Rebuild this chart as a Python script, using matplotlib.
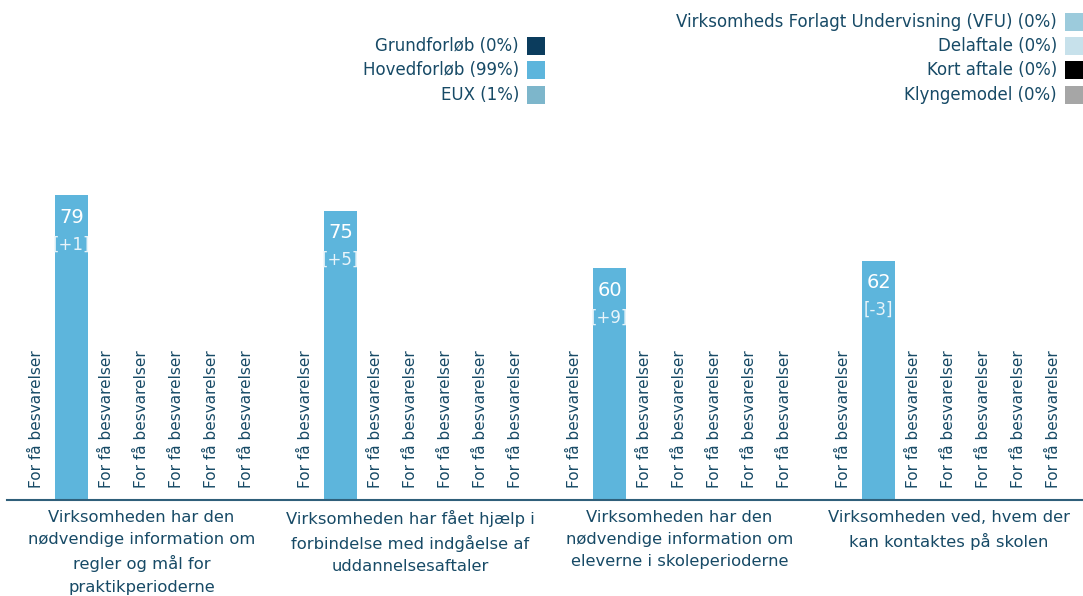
import matplotlib
matplotlib.use("Agg")
import matplotlib.pyplot as plt
from matplotlib.patches import Rectangle

categories = [
    "Virksomheden har den\nnødvendige information om\nregler og mål for\npraktikperioderne",
    "Virksomheden har fået hjælp i\nforbindelse med indgåelse af\nuddannelsesaftaler",
    "Virksomheden har den\nnødvendige information om\neleverne i skoleperioderne",
    "Virksomheden ved, hvem der\nkan kontaktes på skolen",
]
series = ["Grundforløb", "Hovedforløb", "EUX", "Virksomheds Forlagt Undervisning (VFU)",
          "Delaftale", "Kort aftale", "Klyngemodel"]
shares = [0, 99, 1, 0, 0, 0, 0]
colors = ["#0b3c5d", "#5db5dc", "#7db6cb", "#9ccbdc", "#c7e1eb", "#000000", "#a6a6a6"]
hoved_values = [79, 75, 60, 62]
hoved_diffs = ["[+1]", "[+5]", "[+9]", "[-3]"]
values = [[None] * 4, hoved_values, [None] * 4, [None] * 4, [None] * 4, [None] * 4, [None] * 4]
diffs = [[None] * 4, hoved_diffs, [None] * 4, [None] * 4, [None] * 4, [None] * 4, [None] * 4]
few_text = "For få besvarelser"

TXT = "#174a66"
plt.rcParams['font.family'] = ['DejaVu Sans']

W, H = 1083, 596
fig = plt.figure(figsize=(W / 100, H / 100), dpi=100)
x0, x1 = 7, 1083
ybase, ytop = 500, 114
ax = fig.add_axes([x0 / W, (H - ybase) / H, (x1 - x0) / W, (ybase - ytop) / H])
ax.set_xlim(-0.5, 3.5)
ax.set_ylim(0, 100)

slot = 35 / 269
bw = 33 / 269
for j, name in enumerate(series):
    for i in range(len(categories)):
        xc = i + (j - 3) * slot
        v = values[j][i]
        if v is None:
            ax.text(xc, 3, few_text, rotation=90, ha="center", va="bottom",
                    color=TXT, fontsize=11)
        else:
            ax.bar(xc, v, width=bw, color=colors[j])
            ax.text(xc, v - 3.3, str(v), ha="center", va="top", color="white", fontsize=14)
            ax.text(xc, v - 10.5, diffs[j][i], ha="center", va="top", color="#e8f4fa", fontsize=12)

for s in ["top", "left", "right"]:
    ax.spines[s].set_visible(False)
ax.spines["bottom"].set_color("#2f5f7a")
ax.spines["bottom"].set_linewidth(1.5)
ax.set_yticks([])
ax.set_xticks(range(len(categories)))
ax.set_xticklabels(categories, color=TXT, fontsize=11.8, linespacing=1.6)
ax.tick_params(axis="x", length=0, pad=7)

# legend
def legend_item(text, color, xr, yc):
    fig.text((xr - 8) / W, 1 - yc / H, text, ha="right", va="center", color=TXT, fontsize=12)
    fig.add_artist(Rectangle(((xr) / W, 1 - (yc + 9) / H), 18 / W, 18 / H,
                             transform=fig.transFigure, color=color, lw=0))

left_rows = [46, 70, 95]
right_rows = [22, 46, 70, 95]
for k in range(3):
    legend_item(f"{series[k]} ({shares[k]}%)", colors[k], 527, left_rows[k])
for k in range(3, 7):
    legend_item(f"{series[k]} ({shares[k]}%)", colors[k], 1065, right_rows[k - 3])

fig.savefig("out.png", dpi=100)
